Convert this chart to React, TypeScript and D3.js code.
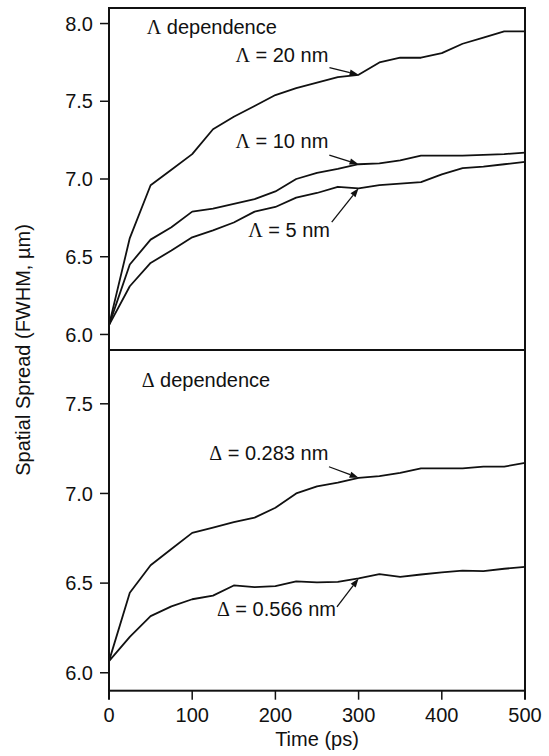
import React from "react";
import * as d3 from "d3";

// time axis (ps), one sample every 25 ps
const times = [0, 25, 50, 75, 100, 125, 150, 175, 200, 225, 250, 275, 300, 325, 350, 375, 400, 425, 450, 475, 500];

// top panel: Lambda dependence
const lambda20 = [6.06, 6.62, 6.96, 7.06, 7.16, 7.32, 7.4, 7.47, 7.54, 7.585, 7.62, 7.655, 7.67, 7.75, 7.78, 7.78, 7.81, 7.87, 7.91, 7.95, 7.95];
const lambda10 = [6.06, 6.45, 6.61, 6.69, 6.79, 6.81, 6.84, 6.87, 6.92, 7.0, 7.04, 7.065, 7.095, 7.1, 7.12, 7.15, 7.15, 7.15, 7.155, 7.16, 7.17];
const lambda5 = [6.06, 6.31, 6.46, 6.54, 6.625, 6.67, 6.72, 6.79, 6.82, 6.88, 6.91, 6.95, 6.94, 6.96, 6.97, 6.98, 7.03, 7.07, 7.08, 7.095, 7.11];

// bottom panel: Delta dependence
const delta283 = [6.065, 6.446, 6.6, 6.69, 6.78, 6.81, 6.84, 6.865, 6.92, 7.0, 7.04, 7.06, 7.087, 7.097, 7.115, 7.14, 7.14, 7.14, 7.15, 7.15, 7.17];
const delta566 = [6.065, 6.2, 6.316, 6.37, 6.41, 6.43, 6.487, 6.478, 6.483, 6.51, 6.504, 6.507, 6.526, 6.55, 6.535, 6.548, 6.56, 6.57, 6.567, 6.58, 6.59];

const xTicks = [0, 100, 200, 300, 400, 500];
const topTicks = [6.0, 6.5, 7.0, 7.5, 8.0];
const bottomTicks = [6.0, 6.5, 7.0, 7.5];

// labels placed in data units: [time, value] of text baseline, arrow start, and the series point it points at
const topNotes = [
  { greek: "Λ", rest: " = 20 nm", at: [263.6, 7.755], from: [265, 7.716], series: lambda20, target: 300 },
  { greek: "Λ", rest: " = 10 nm", at: [263.6, 7.198], from: [264.8, 7.154], series: lambda10, target: 300 },
  { greek: "Λ", rest: " = 5 nm", at: [265.6, 6.625], from: [267.7, 6.723], series: lambda5, target: 300 },
];
const bottomNotes = [
  { greek: "Δ", rest: " = 0.283 nm", at: [263.6, 7.187], from: [264.4, 7.149], series: delta283, target: 300 },
  { greek: "Δ", rest: " = 0.566 nm", at: [272.8, 6.317], from: [274, 6.368], series: delta566, target: 300 },
];

const W = 549;
const H = 756;
const left = 109;
const right = 525;
const top = 8;
const mid = 350;
const bottom = 690.7;
const font = "'Liberation Sans', Arial, Helvetica, sans-serif";
const greekFont = "'Liberation Serif', 'Times New Roman', serif";

const Panel = ({ y, series, ticks, notes, title, titleAt, greek }) => {
  const x = d3.scaleLinear().domain([0, 500]).range([left, right]);
  const line = d3
    .line()
    .x((d, i) => x(times[i]))
    .y((d) => y(d));

  return (
    <g>
      {series.map((s, i) => (
        <path key={i} d={line(s)} fill="none" stroke="#111" strokeWidth={1.8} strokeLinejoin="round" />
      ))}

      {/* y ticks */}
      {ticks.map((t) => (
        <g key={t} transform={`translate(${left}, ${y(t)})`}>
          <line x2={-9} stroke="#111" strokeWidth={1.5} />
          <text x={-16} dy="0.36em" textAnchor="end" fontSize={20} fontFamily={font} fill="#111">
            {t.toFixed(1)}
          </text>
        </g>
      ))}

      {/* panel title */}
      <text x={x(titleAt[0])} y={y(titleAt[1])} fontSize={20} fontFamily={font} fill="#111">
        <tspan fontFamily={greekFont}>{greek}</tspan>
        {" dependence"}
      </text>

      {/* series labels with arrows */}
      {notes.map((n, i) => {
        const tx = x(n.target);
        const ty = y(n.series[times.indexOf(n.target)]);
        const sx = x(n.from[0]);
        const sy = y(n.from[1]);
        const ang = Math.atan2(ty - sy, tx - sx);
        const len = 9;
        const hw = 3.2;
        const bx = tx - len * Math.cos(ang);
        const by = ty - len * Math.sin(ang);
        const px = -Math.sin(ang) * hw;
        const py = Math.cos(ang) * hw;
        return (
          <g key={i}>
            <text x={x(n.at[0])} y={y(n.at[1])} textAnchor="end" fontSize={20} fontFamily={font} fill="#111">
              <tspan fontFamily={greekFont}>{n.greek}</tspan>
              {n.rest}
            </text>
            <line x1={sx} y1={sy} x2={bx} y2={by} stroke="#111" strokeWidth={1.3} />
            <path d={`M${tx},${ty}L${bx + px},${by + py}L${bx - px},${by - py}Z`} fill="#111" />
          </g>
        );
      })}
    </g>
  );
};

export default function App() {
  const x = d3.scaleLinear().domain([0, 500]).range([left, right]);
  const yTop = d3.scaleLinear().domain([5.9, 8.1]).range([mid, top]);
  const yBottom = d3.scaleLinear().domain([5.9, 7.8]).range([bottom, mid]);

  return (
    <div style={{ position: "absolute", left: 0, top: 0 }}>
      <svg width={W} height={H} style={{ display: "block", background: "#fff" }}>
        <Panel
          y={yTop}
          series={[lambda20, lambda10, lambda5]}
          ticks={topTicks}
          notes={topNotes}
          greek="Λ"
          titleAt={[45.3, 7.931]}
        />
        <Panel
          y={yBottom}
          series={[delta283, delta566]}
          ticks={bottomTicks}
          notes={bottomNotes}
          greek="Δ"
          titleAt={[39.3, 7.595]}
        />

        {/* frame and divider */}
        <rect x={left} y={top} width={right - left} height={bottom - top} fill="none" stroke="#111" strokeWidth={2} />
        <line x1={left} x2={right} y1={mid} y2={mid} stroke="#111" strokeWidth={1.8} />

        {/* x ticks */}
        {xTicks.map((t) => (
          <g key={t} transform={`translate(${x(t)}, ${bottom})`}>
            <line y2={9} stroke="#111" strokeWidth={t === 0 || t === 500 ? 2 : 1.5} />
            <text y={31} textAnchor="middle" fontSize={20} fontFamily={font} fill="#111">
              {t}
            </text>
          </g>
        ))}

        <text x={(left + right) / 2} y={746} textAnchor="middle" fontSize={20} fontFamily={font} fill="#111">
          Time (ps)
        </text>
        <text
          transform={`translate(29.5, ${mid}) rotate(-90)`}
          textAnchor="middle"
          fontSize={20}
          fontFamily={font}
          fill="#111"
        >
          Spatial Spread (FWHM, µm)
        </text>
      </svg>
    </div>
  );
}
